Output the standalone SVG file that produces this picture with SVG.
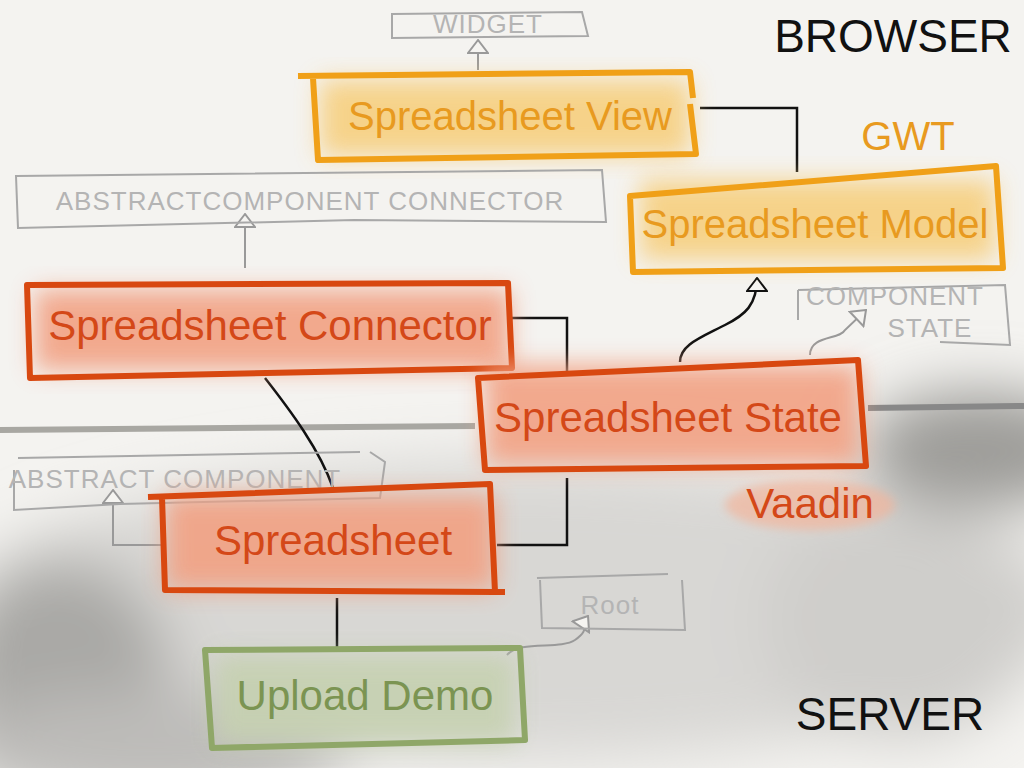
<svg xmlns="http://www.w3.org/2000/svg" width="1024" height="768" viewBox="0 0 1024 768">
<defs>
<filter id="blur" x="-30%" y="-30%" width="160%" height="160%"><feGaussianBlur stdDeviation="12"/></filter>
<filter id="blur2" x="-50%" y="-50%" width="200%" height="200%"><feGaussianBlur stdDeviation="30"/></filter>
<filter id="soft" x="-20%" y="-20%" width="140%" height="140%"><feGaussianBlur stdDeviation="5"/></filter>
<marker id="tri" viewBox="0 0 16 22" refX="15" refY="11" markerWidth="16" markerHeight="22" markerUnits="userSpaceOnUse" orient="auto"><path d="M15,11 L2,1 L2,21 Z" fill="#f5f4f1" stroke="#999" stroke-width="2"/></marker>
<marker id="triK" viewBox="0 0 16 22" refX="15" refY="11" markerWidth="16" markerHeight="22" markerUnits="userSpaceOnUse" orient="auto"><path d="M15,11 L2,1 L2,21 Z" fill="#f5f4f1" stroke="#111" stroke-width="2"/></marker>
<style>
.gbox{fill:none;stroke:#a8a8a8;stroke-width:2}
.gtxt{font-family:"Liberation Sans",sans-serif;fill:#b4b4b4;font-size:26px;letter-spacing:1px}
.obox{fill:none;stroke:#f0a018;stroke-width:6;stroke-linejoin:round}
.otxt{font-family:"Liberation Sans",sans-serif;fill:#e89a20;font-size:40px}
.rbox{fill:none;stroke:#d84810;stroke-width:6;stroke-linejoin:round}
.rtxt{font-family:"Liberation Sans",sans-serif;fill:#d44818;font-size:42px}
.btxt{font-family:"Liberation Sans",sans-serif;fill:#111;font-size:46px}
.con{fill:none;stroke:#111;stroke-width:2.5}
.gcon{fill:none;stroke:#999;stroke-width:2}
</style>
</defs>
<rect width="1024" height="768" fill="#f4f3f0"/>
<g id="background" filter="url(#blur2)">
<ellipse cx="520" cy="610" rx="560" ry="150" fill="#d8d7d4"/>
<ellipse cx="60" cy="680" rx="110" ry="120" fill="#a9a8a5"/>
<ellipse cx="980" cy="450" rx="120" ry="60" fill="#9d9c99"/>
<ellipse cx="900" cy="620" rx="140" ry="120" fill="#cfcecb"/>
<ellipse cx="150" cy="750" rx="200" ry="60" fill="#bdbcb9"/>
</g>
<path d="M0,430 L475,426" stroke="#a8a7a2" stroke-width="6" fill="none"/>
<path d="M868,408 L1024,406" stroke="#888" stroke-width="6" fill="none"/>
<g id="connectors">
<path class="gcon" d="M478,70 L478,40" marker-end="url(#tri)"/>
<path class="gcon" d="M245,268 L245,214" marker-end="url(#tri)"/>
<path class="gcon" d="M165,545 L113,545 L113,490" marker-end="url(#tri)"/>
<path class="gcon" d="M810,355 C810,335 840,340 845,330 L866,310" marker-end="url(#tri)"/>
<path class="gcon" d="M507,655 C520,640 560,650 575,640 C590,630 582,625 588,616" marker-end="url(#tri)"/>
<path class="con" d="M700,108 L797,108 L797,172"/>
<path class="con" d="M512,318 L567,318 L567,372"/>
<path class="con" d="M680,362 C680,345 700,338 725,325 C745,315 757,305 757,278" marker-end="url(#triK)"/>
<path class="con" d="M265,378 C290,410 320,450 333,488"/>
<path class="con" d="M567,478 L567,545 L497,545"/>
<path class="con" d="M337,598 L337,648"/>
</g>
<g id="widget">
<path class="gbox" d="M392,14 L582,12 L588,36 L392,38 Z"/>
<text class="gtxt" x="488" y="33" text-anchor="middle" font-size="20">WIDGET</text>
</g>
<g id="browser"><text class="btxt" x="893" y="52" text-anchor="middle">BROWSER</text></g>
<g id="spreadsheetView">
<rect x="320" y="80" width="370" height="76" fill="#f7cd78" filter="url(#blur)" opacity="0.85"/>
<path class="obox" d="M298,76 L690,72 L693,98 M313,78 L318,160 L696,154 L690,104"/>
<text class="otxt" x="510" y="130" text-anchor="middle">Spreadsheet View</text>
</g>
<g id="gwt"><text class="otxt" x="908" y="150" text-anchor="middle" font-size="36">GWT</text></g>
<g id="spreadsheetModel">
<rect x="640" y="180" width="355" height="80" fill="#f7cd78" filter="url(#blur)" opacity="0.85"/>
<path class="obox" d="M630,196 L996,166 L1003,268 L633,272 Z"/>
<text class="otxt" x="815" y="238" text-anchor="middle">Spreadsheet Model</text>
</g>
<g id="abstractComponentConnector">
<path class="gbox" d="M16,176 L602,170 L606,222 L354,220 L18,228 Z"/>
<text class="gtxt" x="310" y="210" text-anchor="middle">ABSTRACTCOMPONENT CONNECTOR</text>
</g>
<g id="componentState">
<path class="gbox" d="M798,290 L1005,285 L1010,345 L940,342 M798,290 L798,320"/>
<text class="gtxt" x="895" y="305" text-anchor="middle" font-size="18">COMPONENT</text>
<text class="gtxt" x="930" y="337" text-anchor="middle" font-size="18">STATE</text>
</g>
<g id="spreadsheetConnector">
<rect x="35" y="290" width="475" height="80" fill="#f2a183" filter="url(#blur)" opacity="0.9"/>
<path class="rbox" d="M27,285 L508,283 L512,368 L30,378 Z"/>
<text class="rtxt" x="270" y="340" text-anchor="middle">Spreadsheet Connector</text>
</g>
<g id="spreadsheetState">
<rect x="485" y="365" width="375" height="100" fill="#f2a183" filter="url(#blur)" opacity="0.9"/>
<path class="rbox" d="M478,378 L858,360 L866,466 L485,470 Z"/>
<text class="rtxt" x="668" y="432" text-anchor="middle">Spreadsheet State</text>
</g>
<g id="abstractComponent">
<path class="gbox" d="M14,470 L14,510 L120,504 L380,498 L385,462 L370,452 M18,458 L360,452"/>
<text class="gtxt" x="175" y="488" text-anchor="middle" font-size="23">ABSTRACT COMPONENT</text>
</g>
<g id="vaadin">
<ellipse cx="810" cy="505" rx="85" ry="25" fill="#f2b59c" filter="url(#soft)" opacity="0.7"/>
<text class="rtxt" x="810" y="518" text-anchor="middle" font-size="38">Vaadin</text>
</g>
<g id="spreadsheet">
<rect x="165" y="495" width="330" height="95" fill="#f2a183" filter="url(#blur)" opacity="0.9"/>
<path class="rbox" d="M148,497 L490,484 L495,592 L165,590 L162,497 M495,592 L505,592"/>
<text class="rtxt" x="333" y="555" text-anchor="middle">Spreadsheet</text>
</g>
<g id="root">
<path class="gbox" d="M537,578 L668,574 M540,580 L542,628 L685,630 L682,580"/>
<text class="gtxt" x="610" y="614" text-anchor="middle" font-size="28">Root</text>
</g>
<g id="uploadDemo">
<rect x="215" y="655" width="300" height="88" fill="#c6d1b1" filter="url(#blur)" opacity="0.9"/>
<path d="M205,650 L520,648 L525,740 L212,748 Z" fill="none" stroke="#8fa768" stroke-width="6" stroke-linejoin="round"/>
<text x="365" y="710" text-anchor="middle" font-family="Liberation Sans, sans-serif" font-size="42" fill="#7b9452">Upload Demo</text>
</g>
<g id="server"><text class="btxt" x="890" y="730" text-anchor="middle">SERVER</text></g>
</svg>
